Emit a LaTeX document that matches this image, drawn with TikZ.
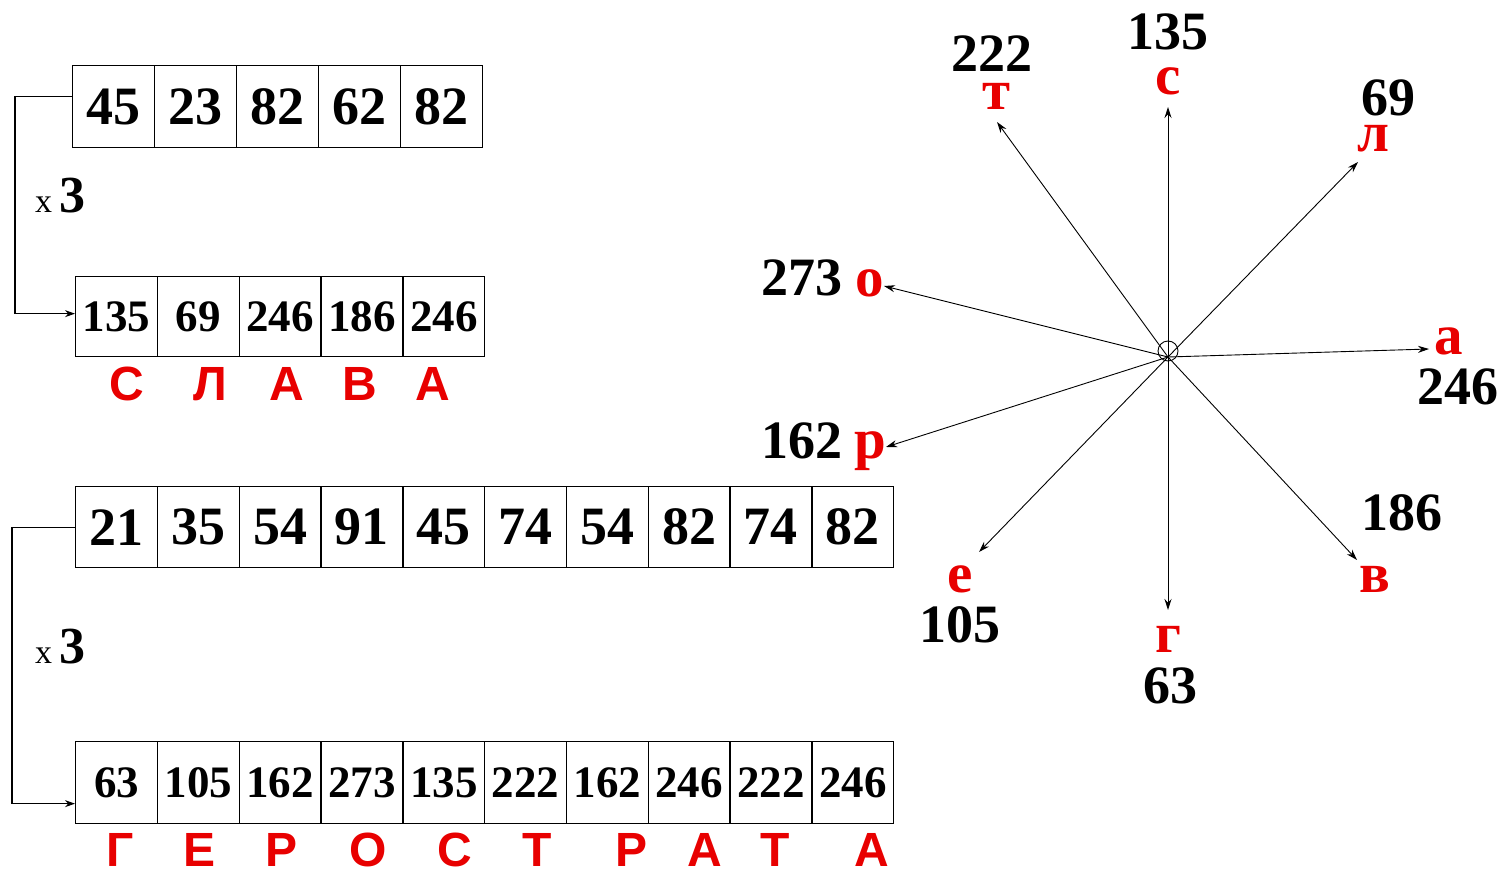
\documentclass[tikz,border=0pt]{standalone}
\usepackage{fontspec}
\setmainfont{Liberation Serif}
\newfontfamily\arialf{Liberation Sans}
\usetikzlibrary{arrows.meta}
\definecolor{cred}{RGB}{232,0,0}
\begin{document}
\begin{tikzpicture}[x=1pt,y=-1pt,
  cell/.style={draw, line width=1.3pt, minimum width=81.8pt, inner sep=0pt, anchor=north west},
  bignum/.style={font=\fontsize{54}{54}\selectfont\bfseries},
  midnum/.style={font=\fontsize{45}{45}\selectfont\bfseries},
  redcap/.style={anchor=base, inner sep=0pt, text=cred, font=\arialf\bfseries\fontsize{48}{48}\selectfont},
  starnum/.style={anchor=base, inner sep=0pt, font=\fontsize{54}{54}\selectfont\bfseries},
  starlet/.style={anchor=base, inner sep=0pt, text=cred, font=\fontsize{57}{57}\selectfont\bfseries},
  conn/.style={line width=1.3pt, -{Stealth[length=10pt,width=7pt]}},
  ray/.style={line width=0.9pt, -{Stealth[length=11pt,width=7pt]}},
  mult/.style={anchor=base west, inner sep=0pt}
]
\useasboundingbox (0,0) rectangle (1508,869);

% Row 1
\foreach \v [count=\i] in {45,23,82,62,82}
  \node[cell, bignum, minimum height=82pt] (a\i) at ({72+(\i-1)*82},65) {\v};
% Row 2
\foreach \v [count=\i] in {135,69,246,186,246}
  \node[cell, midnum, minimum height=80pt] (b\i) at ({75+(\i-1)*81.8},276) {\v};
% Row 3
\foreach \v [count=\i] in {21,35,54,91,45,74,54,82,74,82}
  \node[cell, bignum, minimum height=81pt] (c\i) at ({75+(\i-1)*81.8},486) {\v};
% Row 4
\foreach \v [count=\i] in {63,105,162,273,135,222,162,246,222,246}
  \node[cell, midnum, minimum height=82pt] (d\i) at ({75+(\i-1)*81.8},741) {\v};

% Red labels
\foreach \l/\x [count=\i] in {С/127,Л/210,А/287,В/360,А/433}
  \node[redcap] (la\i) at (\x,400) {\l};
\foreach \l/\x [count=\i] in {Г/120,Е/200,Р/282,О/368,С/455,Т/537,Р/632,А/705,Т/775,А/872}
  \node[redcap] (lb\i) at (\x,866) {\l};

% Multipliers
\node[mult] (m1) at (35,213) {\fontsize{34}{34}\selectfont x\kern7pt\fontsize{52}{52}\selectfont\bfseries 3};
\node[mult] (m2) at (35,663) {\fontsize{34}{34}\selectfont x\kern7pt\fontsize{52}{52}\selectfont\bfseries 3};

% Connectors
\draw[conn] ([yshift=10pt]a1.west) -- ++(-57,0) |- ([yshift=3pt]b1.west);
\draw[conn] ([yshift=-0.5pt]c1.west) -- ++(-63,0) |- ([yshift=-21pt]d1.west);

% Star
\coordinate (O) at (1168,357);
\node[circle, draw, line width=0.9pt, minimum size=20pt, inner sep=0pt] (ring) at (1168,351) {};
\foreach \n/\x/\y in {s/1168/107, t/997/122, l/1358/162, a/1429/349, v/1357/560, g/1168/610, e/979/552, r/886/447, o/884/286}
  \coordinate (e\n) at (\x,\y);
\foreach \n in {s,t,l,a,v,g,e,r,o}
  \draw[ray] (O) -- (e\n);

% Star labels
\node[starnum] (n135) at (1168,50) {135};
\node[starlet] (ls) at (1168,95) {с};
\node[starnum] (n222) at (992,72) {222};
\node[starlet] (lt) at (996,110) {т};
\node[starnum] (n69) at (1388,116) {69};
\node[starlet] (ll) at (1373,152) {л};
\node[starlet] (laa) at (1449,354) {а};
\node[starnum] (n246) at (1458,404) {246};
\node[starnum] (n186) at (1402,530) {186};
\node[starlet] (lv) at (1375,592) {в};
\node[starlet] (lg) at (1168,652) {г};
\node[starnum] (n63) at (1170,703) {63};
\node[starlet] (le) at (960,592) {е};
\node[starnum] (n105) at (960,642) {105};
\node[starnum] (n162) at (802,458) {162};
\node[starlet] (lr) at (870,458) {р};
\node[starnum] (n273) at (802,295) {273};
\node[starlet] (lo) at (870,297) {о};
\end{tikzpicture}
\end{document}
